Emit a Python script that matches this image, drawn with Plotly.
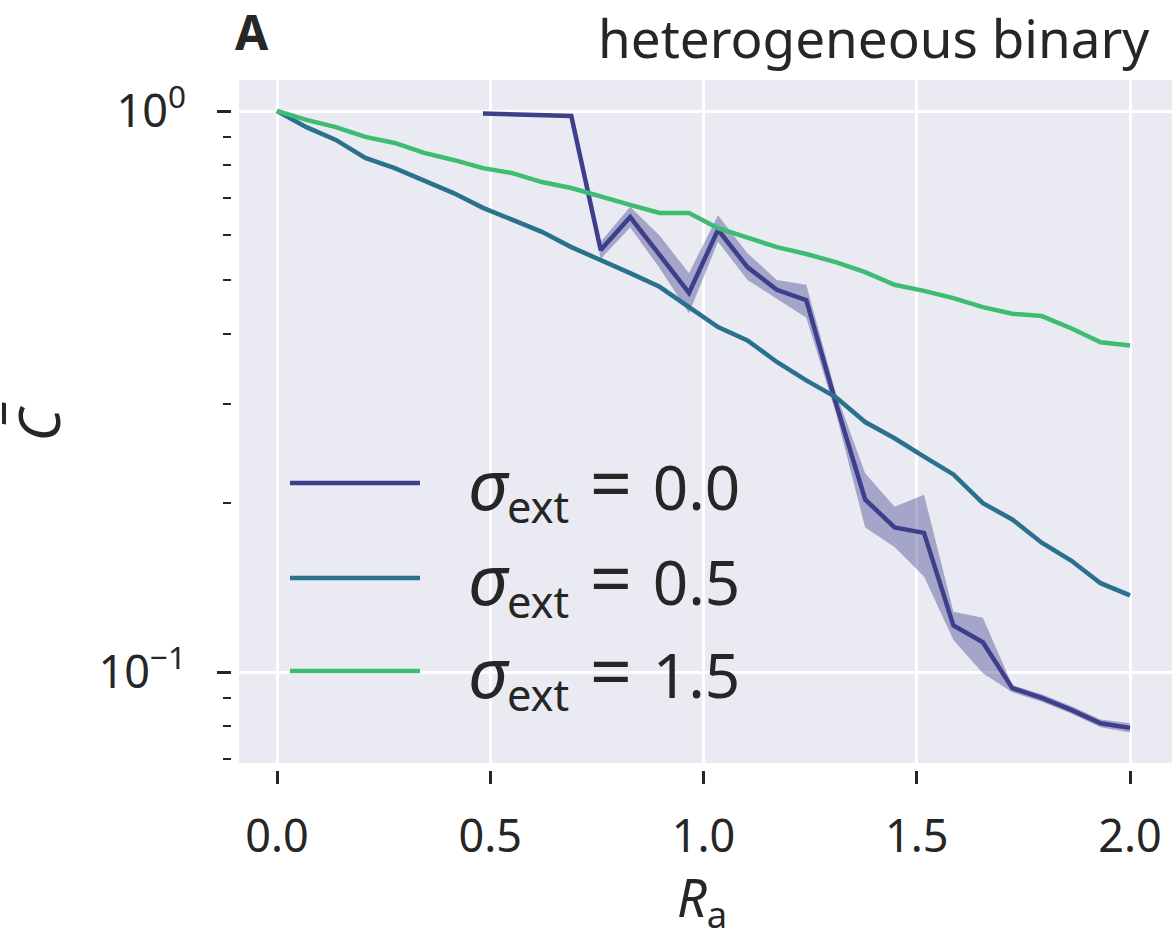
import plotly.graph_objects as go

# ---- data ----
R_a = [0.0, 0.069, 0.138, 0.207, 0.276, 0.345, 0.414, 0.483, 0.552, 0.621,
       0.690, 0.759, 0.828, 0.897, 0.966, 1.034, 1.103, 1.172, 1.241, 1.310,
       1.379, 1.448, 1.517, 1.586, 1.655, 1.724, 1.793, 1.862, 1.931, 2.0]

c_sigma00 = [None, None, None, None, None, None, None, 0.99, 0.988, 0.985,
             0.98, 0.565, 0.647, 0.554, 0.474, 0.614, 0.527, 0.48, 0.46, 0.302,
             0.203, 0.181, 0.177, 0.121, 0.113, 0.0936, 0.0899, 0.0856, 0.081, 0.0795]
c_sigma00_lo = [None, None, None, None, None, None, None, 0.985, 0.983, 0.98,
                0.975, 0.545, 0.62, 0.525, 0.436, 0.585, 0.50, 0.462, 0.428, 0.29,
                0.181, 0.167, 0.148, 0.114, 0.0995, 0.092, 0.0885, 0.0843, 0.0797, 0.078]
c_sigma00_hi = [None, None, None, None, None, None, None, 0.995, 0.993, 0.99,
                0.985, 0.585, 0.675, 0.60, 0.514, 0.652, 0.558, 0.50, 0.49, 0.315,
                0.226, 0.197, 0.207, 0.128, 0.125, 0.0948, 0.0913, 0.087, 0.0823, 0.081]

c_sigma05 = [1.0, 0.936, 0.888, 0.825, 0.791, 0.753, 0.714, 0.672, 0.64, 0.609,
             0.572, 0.543, 0.514, 0.486, 0.447, 0.412, 0.39, 0.357, 0.331, 0.309,
             0.279, 0.261, 0.242, 0.225, 0.2, 0.187, 0.17, 0.158, 0.144, 0.137]

c_sigma15 = [1.0, 0.964, 0.936, 0.899, 0.877, 0.842, 0.818, 0.791, 0.775, 0.747,
             0.729, 0.703, 0.68, 0.658, 0.658, 0.618, 0.594, 0.572, 0.556, 0.538,
             0.516, 0.49, 0.478, 0.464, 0.447, 0.435, 0.431, 0.41, 0.387, 0.382]

sigma_values = ["0.0", "0.5", "1.5"]

x_tickvals = [0.0, 0.5, 1.0, 1.5, 2.0]
x_ticktext = ["0.0", "0.5", "1.0", "1.5", "2.0"]
y_tickvals = [0.1, 1.0]
y_ticktext = ["10<sup>−1</sup>", "10<sup>0</sup>"]
y_minor = [0.07, 0.08, 0.09, 0.2, 0.3, 0.4, 0.5, 0.6, 0.7, 0.8, 0.9]

COL0 = "#3d3f8c"
COL1 = "#2a718e"
COL2 = "#3fbc73"
TXT = "#262626"
FONT = "Noto Sans"

W, H = 1175, 939
L, R, T, B = 232, 1172, 80, 770
PW, PH = R - L, B - T

fig = go.Figure()

# CI band for sigma=0.0
xb = [x for x, v in zip(R_a, c_sigma00_lo) if v is not None]
lo = [v for v in c_sigma00_lo if v is not None]
hi = [v for v in c_sigma00_hi if v is not None]
fig.add_trace(go.Scatter(x=xb, y=lo, mode="lines", line=dict(width=0),
                         showlegend=False, hoverinfo="skip"))
fig.add_trace(go.Scatter(x=xb, y=hi, mode="lines", line=dict(width=0),
                         fill="tonexty", fillcolor="rgba(61,63,140,0.4)",
                         showlegend=False, hoverinfo="skip"))

for ys, col, sv in [(c_sigma00, COL0, sigma_values[0]),
                    (c_sigma05, COL1, sigma_values[1]),
                    (c_sigma15, COL2, sigma_values[2])]:
    fig.add_trace(go.Scatter(x=R_a, y=ys, mode="lines", name="σext = " + sv,
                             line=dict(color=col, width=4.5), showlegend=False))

# gray axes background (inset so ticks sit off the frame)
fig.add_shape(type="rect", xref="paper", yref="paper",
              x0=7 / PW, x1=1, y0=7 / PH, y1=1,
              fillcolor="#EAEAF2", line=dict(width=0), layer="below")

# manual legend
leg_y = [483, 578, 671]
for sv, col, yy in zip(sigma_values, [COL0, COL1, COL2], leg_y):
    py = (B - yy) / PH
    fig.add_shape(type="line", xref="paper", yref="paper",
                  x0=(290 - L) / PW, x1=(420 - L) / PW, y0=py, y1=py,
                  line=dict(color=col, width=4.5))
    lab = ("<span style='font-size:70px'><i>σ</i></span><sub>ext</sub>"
           "\u2004<span style='font-size:74px'>=</span>\u2004" + sv)
    fig.add_annotation(xref="paper", yref="paper", x=(466 - L) / PW, y=py,
                       text=lab, showarrow=False, xanchor="left", yanchor="middle",
                       font=dict(family=FONT, size=62, color=TXT))

# titles
fig.add_annotation(xref="paper", yref="paper", x=(233 - L) / PW, y=(B - 32) / PH,
                   text="<b>A</b>", showarrow=False, xanchor="left", yanchor="middle",
                   font=dict(family=FONT, size=48, color=TXT))
fig.add_annotation(xref="paper", yref="paper", x=(1152 - L) / PW, y=(B - 38) / PH,
                   text="heterogeneous binary", showarrow=False, xanchor="right",
                   yanchor="middle", font=dict(family=FONT, size=53, color=TXT))

x0 = 277
upx = 426.5
y1px, dec = 111, 561

fig.update_layout(
    width=W, height=H,
    margin=dict(l=L, r=W - R, t=T, b=H - B),
    plot_bgcolor="white", paper_bgcolor="white",
    font=dict(family=FONT, color=TXT),
    xaxis=dict(
        range=[(L - x0) / upx, (R - x0) / upx],
        tickvals=x_tickvals, ticktext=x_ticktext,
        showgrid=True, gridcolor="white", gridwidth=3,
        zeroline=False, showline=False,
        ticks="outside", ticklen=13, tickwidth=3, tickcolor=TXT,
        tickfont=dict(family=FONT, size=45, color=TXT),
        ticklabelstandoff=14,
        title=dict(text="<i>R</i><sub>a</sub>", font=dict(family=FONT, size=52, color=TXT),
                   standoff=22),
    ),
    yaxis=dict(
        type="log",
        range=[-(B - y1px) / dec, (y1px - T) / dec],
        tickvals=y_tickvals, ticktext=y_ticktext,
        showgrid=True, gridcolor="white", gridwidth=3,
        zeroline=False, showline=False,
        ticks="outside", ticklen=14, tickwidth=3, tickcolor=TXT,
        tickfont=dict(family=FONT, size=45, color=TXT),
        ticklabelstandoff=22,
        minor=dict(tickvals=y_minor, ticks="outside", ticklen=8, tickwidth=2,
                   tickcolor=TXT, showgrid=False),
        title=dict(text="<i>C\u0305</i>", font=dict(family=FONT, size=56, color=TXT),
                   standoff=52),
    ),
)

fig.write_html("out.html")
